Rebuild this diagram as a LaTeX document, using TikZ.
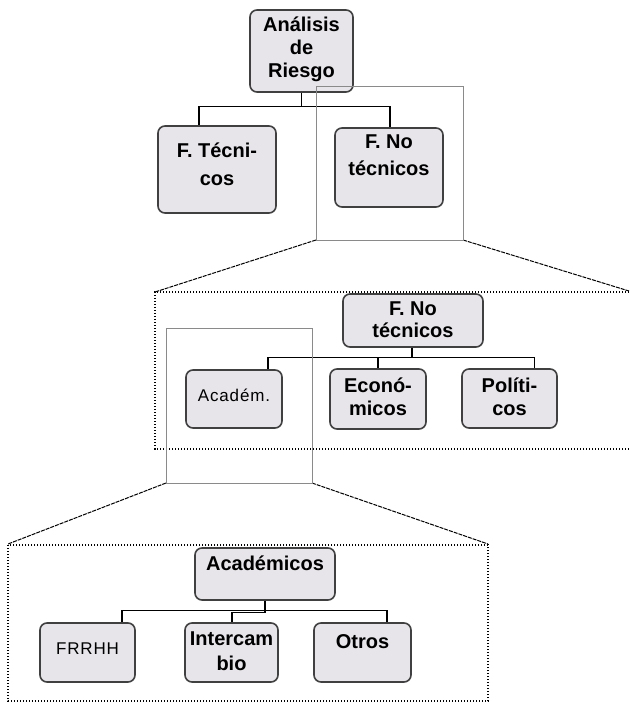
\documentclass[tikz,border=0pt]{standalone}
\usepackage{fontspec}
\setmainfont{Liberation Sans}
\definecolor{boxfill}{HTML}{E7E5EA}
\definecolor{zoomgray}{HTML}{8A8A8A}
\begin{document}
\begin{tikzpicture}[x=1pt,y=-1pt,
  box/.style={draw=black!75, line width=1.6pt, fill=boxfill, rounded corners=7pt, inner sep=0pt},
  lbl/.style={font=\bfseries\fontsize{20}{23}\selectfont, align=center, anchor=base, inner sep=0pt},
  lblwide/.style={lbl, font=\bfseries\fontsize{20}{27.5}\selectfont},
  lblreg/.style={font=\fontsize{17}{20}\selectfont\addfontfeature{LetterSpace=5}, anchor=base, inner sep=0pt},
  conn/.style={draw=black, line width=1.1pt},
  zoomrect/.style={draw=zoomgray, line width=1pt},
  zoomline/.style={draw=black, line width=1pt, dash pattern=on 4pt off 1pt},
  dotbox/.style={draw=black, line width=1.3pt, dash pattern=on 1.4pt off 1.6pt}]
\useasboundingbox (0,0) rectangle (629,703);

% dotted frames
\draw[dotbox] (629,292) -- (155,292) -- (155,449) -- (629,449);
\draw[dotbox] (8,545) rectangle (488,701);

% zoom frames (coordinates)
\coordinate (z1a) at (316,240); \coordinate (z1b) at (463,240);
\coordinate (d1a) at (155,292); \coordinate (d1b) at (629,291);
\coordinate (z2a) at (166,483); \coordinate (z2b) at (312,483);
\coordinate (d2a) at (8,544);   \coordinate (d2b) at (488,544);
\draw[zoomline] (z1a) -- (d1a);
\draw[zoomline] (z1b) -- (d1b);
\draw[zoomline] (z2a) -- (d2a);
\draw[zoomline] (z2b) -- (d2b);

% boxes
\node[box, minimum width=103pt, minimum height=82pt] (ar)  at (301.5,51) {};
\node[box, minimum width=118pt, minimum height=87pt] (ft)  at (217,169.5) {};
\node[box, minimum width=108pt, minimum height=79pt] (fn)  at (389,167.5) {};
\node[box, minimum width=140pt, minimum height=53pt] (fn2) at (413,320.5) {};
\node[box, minimum width=96pt,  minimum height=58pt] (acd) at (234,399) {};
\node[box, minimum width=96pt,  minimum height=60pt] (eco) at (378,399) {};
\node[box, minimum width=95pt,  minimum height=59pt] (pol) at (509.5,398.5) {};
\node[box, minimum width=140pt, minimum height=52pt] (aca) at (265,574) {};
\node[box, minimum width=95pt,  minimum height=59pt] (frr) at (87.5,652.5) {};
\node[box, minimum width=93pt,  minimum height=59pt] (int) at (231.5,652.5) {};
\node[box, minimum width=97pt,  minimum height=59pt] (otr) at (362.5,652.5) {};

% connectors
\draw[conn] (ar.south) -- ++(0,14) -| ([xshift=-18pt]ft.north);
\draw[conn] (ar.south) -- ++(0,14) -| ([xshift=1pt]fn.north);
\draw[conn] ([xshift=-1pt]fn2.south) -- ++(0,10) -| ([xshift=34pt]acd.north);
\draw[conn] ([xshift=-1pt]fn2.south) -- ++(0,10) -| (eco.north);
\draw[conn] ([xshift=-1pt]fn2.south) -- ++(0,10) -| ([xshift=25pt]pol.north);
\draw[conn] (aca.south) -- ++(0,10) -| ([xshift=34.5pt]frr.north);
\draw[conn] (aca.south) -- ++(0,12) -| ([xshift=0.5pt]int.north);
\draw[conn] (aca.south) -- ++(0,10) -| ([xshift=24.5pt]otr.north);

% texts (anchor = baseline of last line)
\node[lbl] (ar-t) at (301.5,78) {Análisis\\de\\Riesgo};
\node[lblwide] (ft-t) at (217,185.5) {F. Técni-\\cos};
\node[lblwide] (fn-t) at (389,176) {F. No\\técnicos};
\node[lbl, font=\bfseries\fontsize{20}{22}\selectfont] (fn2-t) at (413,337) {F. No\\técnicos};
\node[lblreg] (acd-t) at (234,401.5) {Académ.};
\node[lbl] (eco-t) at (378,415) {Econó-\\micos};
\node[lbl] (pol-t) at (509.5,415) {Políti-\\cos};
\node[lbl] (aca-t) at (265,570) {Académicos};
\node[lblreg] (frr-t) at (87.5,654) {FRRHH};
\node[lbl, font=\bfseries\fontsize{20}{25}\selectfont] (int-t) at (231.5,670) {Intercam\\bio};
\node[lbl] (otr-t) at (362.5,648) {Otros};

% zoom rectangles on top
\draw[zoomrect] (316,87) rectangle (z1b);
\draw[zoomrect] (166,328) rectangle (z2b);
\end{tikzpicture}
\end{document}
